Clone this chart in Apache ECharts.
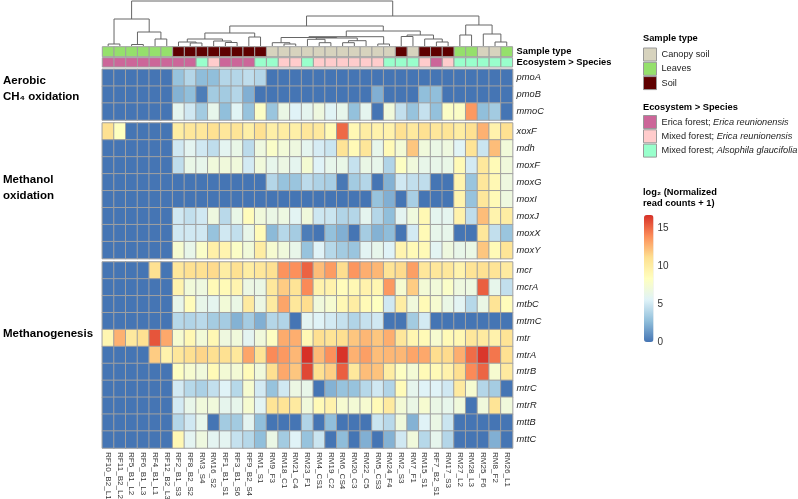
<!DOCTYPE html>
<html><head><meta charset="utf-8">
<script src="https://cdn.jsdelivr.net/npm/echarts@6/dist/echarts.min.js"></script>
<style>html,body{margin:0;padding:0;background:#fff}#c{width:798px;height:499px}</style>
</head><body><div id="c"></div>
<script>
// ---------------- DATA ----------------
const columns = ['RF10_B2_L1','RF11_B2_L2','RF5_B1_L2','RF6_B1_L3','RF4_B1_L1','RF12_B2_L3','RF2_B1_S3','RF8_B2_S2','RM3_S4','RM16_S2','RF1_B1_S1','RF3_B1_S6','RF9_B2_S4','RM1_S1','RM9_F3','RM18_C1','RM21_C4','RM23_F1','RM4_CS1','RM19_C2','RM6_CS4','RM20_C3','RM22_C5','RM5_CS3','RM24_F4','RM2_S3','RM7_F1','RM15_S1','RF7_B2_S1','RM17_S3','RM27_L2','RM28_L3','RM25_F6','RM8_F2','RM26_L1'];

const sampleTypeNames = ['Canopy soil','Leaves','Soil'];
const sampleType = ['Leaves','Leaves','Leaves','Leaves','Leaves','Leaves','Soil','Soil','Soil','Soil','Soil','Soil','Soil','Soil','Canopy soil','Canopy soil','Canopy soil','Canopy soil','Canopy soil','Canopy soil','Canopy soil','Canopy soil','Canopy soil','Canopy soil','Canopy soil','Soil','Canopy soil','Soil','Soil','Soil','Leaves','Leaves','Canopy soil','Canopy soil','Leaves'];

const ecosystemNames = ['Erica forest; Erica reunionensis','Mixed forest; Erica reunionensis','Mixed forest; Alsophila glaucifolia'];
const E = ecosystemNames[0], P = ecosystemNames[1], A = ecosystemNames[2];
const ecosystem = [E,E,E,E,E,E,E,E,A,P,E,E,E,A,A,P,P,A,P,P,P,P,P,P,A,A,A,P,E,P,A,A,A,A,A];

const sectionNames = ['Aerobic\nCH₄ oxidation','Methanol\noxidation','Methanogenesis'];
const rows1 = ['pmoA','pmoB','mmoC'];
const rows2 = ['xoxF','mdh','moxF','moxG','moxI','moxJ','moxX','moxY'];
const rows3 = ['mcr','mcrA','mtbC','mtmC','mtr','mtrA','mtrB','mtrC','mtrR','mttB','mttC'];

const pmoA = [0,0,0,0,0,0,3,4,2.7,2.8,4,4,4.4,4,0,0,0,0,0,0,0,0,0,0,0,0,0,0,0,0,0,0,0,0,0];
const pmoB = [0,0,0,0,0,0,2.3,2.8,0.3,3.4,3.4,4,2.2,0,0,0,0,0,0,0,0,0,0,2.2,0,0,0,2.8,2.8,0,0,0,0,0,0];
const mmoC = [0,0,0,0,0,0,6,5,3.4,6.2,2.8,5.7,3,8,3.1,6.5,5.6,6,6.8,5.7,6.2,2.9,6,0,7,4.5,3,4.6,2.9,8,8,13.5,2.8,3.4,0];

const xoxF = [11,8.3,0,0,0,0,10,10.5,10.5,11,10.5,10.7,9.8,11,9.8,10,9.8,10.5,10.3,8.8,15,9,10,9.5,9.5,11,10.3,11,10.5,10.7,10,11,12.7,9.5,11];
const mdh  = [0,0,0,0,0,0,5,5.9,5,4.4,5.9,6.4,4.3,6.8,7.9,7.2,6.8,6,5.2,4.8,10.8,8.8,10.6,6.2,8.8,7.3,12,7,6.5,6.8,5.7,10.8,4.8,12.3,7.1];
const moxF = [0,0,0,0,0,0,4.4,6.4,6.2,7,7,7,5.1,7,6.2,6.6,6,7.4,5.6,6.2,6.4,4.6,6.5,6.2,3.9,8.2,7,6.3,6.3,6.4,8.8,5.1,10.4,8.8,7];
const moxG = [0,0,0,0,0,0,0,0,0,0,0,0,0,0,4,3,3.1,4.3,3.8,3.6,0.1,3.4,4,0,2.3,5,4.5,4.4,0,0,9.3,3.1,10.5,9,6.8];
const moxI = [0,0,0,0,0,0,0,0,0,0,0,0,0,0,0,0,0,0,0,0,0,0,0,3,2.2,0,3.6,0,0,0,9.3,3,10.5,8.8,6.8];
const moxJ = [0,0,0,0,0,0,5,4.5,5,6.8,4.2,6.4,8.6,7,6.5,6.7,5.8,7,4.9,4.8,3.9,4,6,4,2.8,5.9,6.9,9,6,6,9.5,4.4,12.3,9.4,10];
const moxX = [0,0,0,0,0,0,5,5,5,3,5,4.5,6.3,8.7,2.6,4.1,3.5,0.3,0,2.9,2.2,0,3.5,2.3,2.7,0,5.1,8.8,6.2,6.2,0,0,10.5,4.5,3.1];
const moxY = [0,0,0,0,0,0,7.5,6.3,7.9,9.7,9.3,8,7.1,10,7.5,7,6.3,3,5.6,4.1,3.4,3.1,5.8,6.2,5.6,9.3,8.8,8.8,5.8,6.8,6.3,6.5,12,8.8,10.7];

const mcr  = [0,0,0,0,11,0,10.5,11,11,11.3,10,11,10,10.5,11,13.7,13.8,15.2,12.3,13.4,11.2,13.6,12.8,12.5,10.8,11.3,13.3,10.5,10.5,10.4,9.4,10.8,11,10.8,10.2];
const mcrA = [0,0,0,0,0,0,9.4,7.1,6.8,8.8,8.8,9.3,6.6,6.5,10.4,11.8,10.8,14,9.5,9.5,8.6,9,9.5,9.2,13.5,7.5,11.8,7.3,7.1,7.9,6.8,6.7,15.3,6.2,4.5];
const mtbC = [0,0,0,0,0,0,6.3,8.6,6.3,6,7.2,6.5,10.2,6.6,10.2,13.1,10.5,11.2,7,7.5,9,10,8.8,8.3,5,10,7,8.8,7.5,6.5,5.8,4.1,6.5,10.8,8.6];
const mtmC = [0,0,0,0,0,0,4.1,3.9,4.2,3.5,3.5,2.3,3.5,2.2,4,3.9,0,5.9,5.6,5.1,4.6,3.9,4.6,5,0,0,3.4,5.1,0,0,0,0,0,0,0];
const mtr  = [9.2,12.7,10.3,11,15.6,13,7.5,9,7.2,9,6.8,7,5.9,7,8.2,12.9,12.8,9,11.1,10.8,11.1,12,12.5,12,12.8,10.5,9.2,8.8,7.5,8.8,9,10.5,10.2,9.5,10.8];
const mtrA = [0,0,0,0,11.8,9.5,10.5,11.1,11.5,11.1,11,10.4,13.1,10.8,14,13.5,12.5,16.7,12.4,13.8,16.6,12.7,13.3,12.3,12.5,12.5,13.1,13,11.2,11.3,12.8,14.9,16.5,14.6,11];
const mtrB = [0,0,0,0,0,0,8.2,7.5,7,8.8,7.3,7.3,8.7,7,11.1,13,12,16,11,11.7,15.3,10.4,12.3,12.1,10,8.2,7.3,8.8,8.8,9.5,11.1,14,15.1,7.5,10.2];
const mtrC = [0,0,0,0,0,0,5.1,4.1,3.7,4.5,5.6,4.1,7.5,5.1,3,5,6.6,6.3,0,2.3,3,3,4.1,5,3.9,8.7,6.1,5.6,5.6,5,10.2,7.5,4,3.5,0];
const mtrR = [0,0,0,0,0,0,5.1,6.3,7,7,6.1,6.2,7.5,5.8,10.8,10.8,10.2,7,8.8,9.5,7.5,7.3,7.5,8.8,10.2,7.3,6.5,7.5,6.5,6.2,7,0,7,10.8,7];
const mttB = [0,0,0,0,0,0,4,5,6.2,0,3.4,3.4,5.9,2.8,0,0,0,3.9,0,2.8,0,0,0,4.8,4.2,7,2.3,5.6,6.5,4.8,0,0,0,0,0];
const mttC = [0,0,0,0,0,0,9,5.9,6.8,5.9,5.9,4.6,4.1,2.8,6.5,3.4,5.6,3,4.8,0,2.7,0,2.2,0,2.3,5,7,4.1,6.1,4,0,0,0,2.2,0];

const section1 = [pmoA, pmoB, mmoC];
const section2 = [xoxF, mdh, moxF, moxG, moxI, moxJ, moxX, moxY];
const section3 = [mcr, mcrA, mtbC, mtmC, mtr, mtrA, mtrB, mtrC, mtrR, mttB, mttC];

// column dendrogram: [left, right, mergeHeight]; leaves are column indices
const leavesClade = [[0,1,2],[[2,3,1.5],[4,5,7],14],27];
const soilClade = [[[6,[7,8,3],4],[9,[10,11,3.5],5],7],[12,13,9],13];
const canopyLeft = [[[14,[15,16,2],3.3],[[17,[18,19,3.3],6.7],[[20,21,3.3],22,5.3],8],8.5],[23,24,2],9.3];
const canopyRight = [[25,26,9.5],[27,[28,29,4],7],11];
const mixedLeaves = [[30,31,11],[32,[33,34,4],12],21];
const dendroTree = [leavesClade, [[soilClade,[canopyLeft,canopyRight,15],20], mixedLeaves, 30], 45];

const colorMax = 16.7;
const colorTicks = [0,5,10,15];

// ---------------- STYLE ----------------
const FONT = 'Liberation Sans, Arial, Helvetica, sans-serif';
const sampleColors = {'Canopy soil':'#d7d3be','Leaves':'#95e06c','Soil':'#5e0000'};
const ecoColors = {};
ecoColors[E] = '#cc6699'; ecoColors[P] = '#ffcccc'; ecoColors[A] = '#99ffcc';
const palette = ['#4575b4','#91bfdb','#e0f3f8','#ffffbf','#fee090','#fc8d59','#d73027'];
const LEFT = 102.3, WIDTH = 410.3;

// ---------------- BUILD ----------------
const links = [];
function walk(n){
  if (typeof n === 'number') return [n, 0];
  const L = walk(n[0]), R = walk(n[1]);
  links.push([L[0], L[1], R[0], R[1], n[2]]);
  return [(L[0] + R[0]) / 2, n[2]];
}
walk(dendroTree);

function toHeat(rows){
  const d = [];
  rows.forEach((r, yi) => r.forEach((v, xi) => d.push([xi, yi, v])));
  return d;
}

const grids = [
  {left: LEFT, width: WIDTH, top: 1, height: 45},
  {left: LEFT, width: WIDTH, top: 46.7, height: 10},
  {left: LEFT, width: WIDTH, top: 57.7, height: 9.3},
  {left: LEFT, width: WIDTH, top: 69.3, height: 50.7},
  {left: LEFT, width: WIDTH, top: 123, height: 135.6},
  {left: LEFT, width: WIDTH, top: 262, height: 186},
  {left: 644, width: 9.5, top: 215, height: 127}
].map(g => Object.assign({containLabel: false, outerBoundsMode: 'none', show: false}, g));

const hidden = {show: false};
const catX = (gi, showLabels) => ({
  type: 'category', gridIndex: gi, data: columns,
  axisLine: hidden, axisTick: hidden, splitLine: hidden,
  axisLabel: showLabels ? {show: true, interval: 0, rotate: -90, fontSize: 8.1, color: '#333', margin: 4, fontFamily: FONT} : hidden
});
const rowY = (gi, data, bold) => ({
  type: 'category', gridIndex: gi, data: data, inverse: true, position: 'right',
  axisLine: hidden, axisTick: hidden, splitLine: hidden,
  axisLabel: {show: true, interval: 0, margin: 4, fontSize: bold ? 9.3 : 9.3, fontFamily: FONT,
    fontStyle: bold ? 'normal' : 'italic', fontWeight: bold ? 'bold' : 'normal', color: bold ? '#000' : '#222'}
});

const xAxes = [
  {type: 'value', gridIndex: 0, min: -0.5, max: 34.5, show: false},
  catX(1, false), catX(2, false), catX(3, false), catX(4, false), catX(5, true),
  {type: 'value', gridIndex: 6, show: false, min: 0, max: 1}
];
const yAxes = [
  {type: 'value', gridIndex: 0, min: 0, max: 45, show: false},
  rowY(1, ['Sample type'], true), rowY(2, ['Ecosystem > Species'], true),
  rowY(3, rows1, false), rowY(4, rows2, false), rowY(5, rows3, false),
  {type: 'value', gridIndex: 6, min: 0, max: colorMax, interval: 5, position: 'right',
    axisLine: hidden, axisTick: hidden, splitLine: hidden,
    axisLabel: {fontSize: 10, color: '#333', margin: 4, fontFamily: FONT,
      formatter: v => colorTicks.indexOf(v) >= 0 ? String(v) : ''}}
];

function annotRender(params, api){
  const c = api.coord([api.value(0), api.value(1)]);
  const s = api.size([1, 1]);
  return {type: 'rect', shape: {x: c[0] - s[0] / 2, y: c[1] - s[1] / 2, width: s[0], height: s[1]},
    style: {fill: api.visual('color'), stroke: '#a0a0a0', lineWidth: 1}};
}

const series = [];
series.push({
  type: 'custom', name: 'dendrogram', xAxisIndex: 0, yAxisIndex: 0, silent: true, clip: false,
  data: links,
  renderItem: (params, api) => {
    const p1 = api.coord([api.value(0), api.value(1)]);
    const p2 = api.coord([api.value(0), api.value(4)]);
    const p3 = api.coord([api.value(2), api.value(4)]);
    const p4 = api.coord([api.value(2), api.value(3)]);
    return {type: 'polyline', shape: {points: [p1, p2, p3, p4]}, style: {stroke: '#666', lineWidth: 1, fill: null}};
  }
});
sampleTypeNames.forEach(nm => {
  series.push({
    type: 'custom', name: nm, xAxisIndex: 1, yAxisIndex: 1, silent: true,
    itemStyle: {color: sampleColors[nm]},
    data: columns.map((c, i) => sampleType[i] === nm ? [i, 0] : null).filter(d => d),
    renderItem: annotRender
  });
});
ecosystemNames.forEach(nm => {
  series.push({
    type: 'custom', name: nm, xAxisIndex: 2, yAxisIndex: 2, silent: true,
    itemStyle: {color: ecoColors[nm]},
    data: columns.map((c, i) => ecosystem[i] === nm ? [i, 0] : null).filter(d => d),
    renderItem: annotRender
  });
});
[section1, section2, section3].forEach((sec, k) => {
  series.push({
    type: 'heatmap', xAxisIndex: 3 + k, yAxisIndex: 3 + k, silent: true, progressive: 0,
    data: toHeat(sec),
    itemStyle: {borderColor: '#a0a0a0', borderWidth: 1},
    emphasis: {disabled: true}
  });
});

const titleStyle = (size) => ({fontSize: size, fontWeight: 'bold', color: '#000', fontFamily: FONT});
const LEG_FS = 9.2;
const option = {
  backgroundColor: '#fff',
  animation: false,
  textStyle: {fontFamily: FONT},
  title: [
    {text: sectionNames[0], left: 3, top: 73, padding: 0, textStyle: Object.assign(titleStyle(11.5), {lineHeight: 16})},
    {text: sectionNames[1], left: 3, top: 172, padding: 0, textStyle: Object.assign(titleStyle(11.5), {lineHeight: 16})},
    {text: sectionNames[2], left: 3, top: 326, padding: 0, textStyle: Object.assign(titleStyle(11.5), {lineHeight: 16})},
    {text: 'Sample type', left: 643, top: 34, padding: 0, textStyle: titleStyle(9.3)},
    {text: 'Ecosystem > Species', left: 643, top: 103, padding: 0, textStyle: titleStyle(9.3)},
    {text: 'log₂ (Normalized\nread counts + 1)', left: 643, top: 187, padding: 0, textStyle: Object.assign(titleStyle(9.3), {lineHeight: 11})}
  ],
  grid: grids,
  xAxis: xAxes,
  yAxis: yAxes,
  legend: [
    {data: sampleTypeNames, orient: 'vertical', left: 643, top: 47.5, padding: 0, itemGap: 0.3,
      itemWidth: 13, itemHeight: 13, icon: 'rect', selectedMode: false,
      itemStyle: {borderColor: '#999', borderWidth: 1},
      textStyle: {fontSize: LEG_FS, color: '#222', fontFamily: FONT}},
    {data: ecosystemNames, orient: 'vertical', left: 643, top: 115, padding: 0, itemGap: 0.3,
      itemWidth: 13, itemHeight: 13, icon: 'rect', selectedMode: false,
      itemStyle: {borderColor: '#999', borderWidth: 1},
      formatter: name => { const p = name.split('; '); return '{n|' + p[0] + '; }{i|' + p[1] + '}'; },
      textStyle: {fontSize: LEG_FS, color: '#222', fontFamily: FONT,
        rich: {n: {fontSize: LEG_FS, color: '#222', fontFamily: FONT}, i: {fontSize: LEG_FS, color: '#222', fontStyle: 'italic', fontFamily: FONT}}}}
  ],
  visualMap: {
    type: 'continuous', seriesIndex: [7, 8, 9], min: 0, max: colorMax,
    inRange: {color: palette}, left: 644, top: 215, itemWidth: 9.5, itemHeight: 127,
    calculable: false, padding: 0, text: null, hoverLink: false
  },
  series: series
};

const chart = echarts.init(document.getElementById('c'), null, {renderer: 'canvas', width: 798, height: 499});
chart.setOption(option);
</script>
</body></html>
